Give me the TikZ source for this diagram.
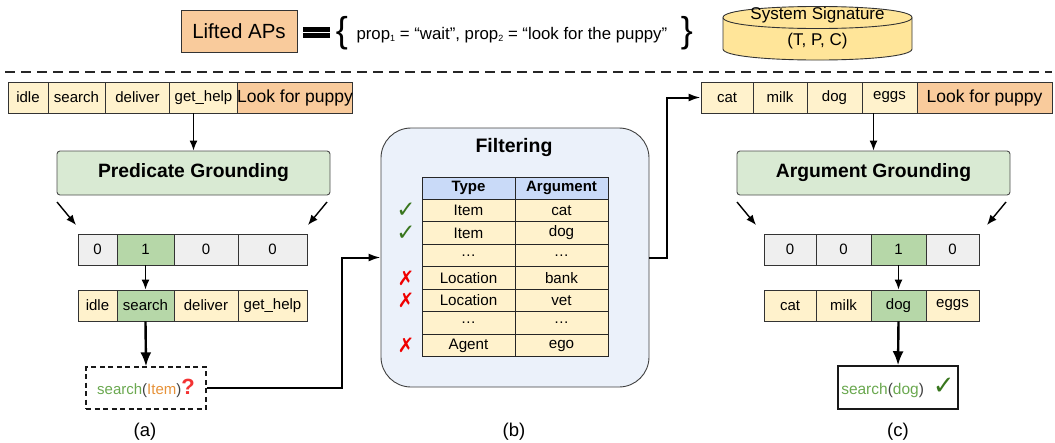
\documentclass[tikz,border=0pt]{standalone}
\usepackage{fontspec}
\setmainfont{Liberation Sans}
\newfontfamily\symfont{DejaVu Sans}
\usepackage{tikz}
\usetikzlibrary{arrows.meta}
\usepackage{xcolor}
\definecolor{apOrange}{HTML}{F9CB9C}
\definecolor{cellYellow}{HTML}{FFF2CC}
\definecolor{gndGreen}{HTML}{D9EAD3}
\definecolor{cellGreen}{HTML}{B6D7A8}
\definecolor{cellGray}{HTML}{EFEFEF}
\definecolor{cylYellow}{HTML}{FFE599}
\definecolor{headBlue}{HTML}{C9DAF8}
\definecolor{filtBlue}{HTML}{EBF1FA}
\definecolor{txtGreen}{HTML}{6AA84F}
\definecolor{txtOrange}{HTML}{E69138}
\definecolor{chkGreen}{HTML}{38761D}
\definecolor{crossRed}{HTML}{F00000}
\newcommand{\fsz}[1]{\fontsize{#1}{#1}\selectfont}

\begin{document}
\begin{tikzpicture}[x=1pt, y=-1pt, draw=black!85]
			\tikzstyle{cell}=[draw=black!80, line width=0.9pt, inner sep=0pt, minimum height=31pt, font=\fsz{15}]
			\tikzstyle{gbox}=[draw=black!70, line width=0.9pt, fill=gndGreen, rounded corners=3pt, minimum width=273pt, minimum height=44pt, font=\bfseries\fsz{19.3}]
			\tikzstyle{tcell}=[draw=black!85, line width=0.9pt, fill=cellYellow, inner sep=0pt, minimum width=93pt, minimum height=22.5pt, font=\fsz{15.2}]
			\tikzstyle{thin arrow}=[-{Latex[length=10pt,width=8pt]}, line width=1.4pt, black]
			\tikzstyle{thick arrow}=[-{Latex[length=14pt,width=11pt]}, line width=2.4pt, black]
			\tikzstyle{link}=[-{Latex[length=12pt,width=8pt]}, line width=2pt, black]
			\tikzstyle{ok}=[font=\symfont\fsz{23}, text=chkGreen]
			\tikzstyle{bad}=[font=\symfont\bfseries\fsz{20}, text=crossRed]
			\tikzstyle{caption}=[font=\fsz{18.5}]
			\useasboundingbox (0,0) rectangle (1055,442);
			
			% Header line
			\node[draw=black!80, line width=0.9pt, fill=apOrange, minimum width=116pt, minimum height=42pt, font=\fsz{20.5}] (lifted) at (239,31) {Lifted APs};
			\fill[black] (303,27) rectangle (330,31.5);
			\fill[black] (303,33) rectangle (330,37.5);
			\node[font=\fsz{36}] (lbrace) at (342,33) {\{};
			\node[anchor=west, font=\fsz{16.8}] (props) at (353,35) {prop{\fsz{9}\raisebox{-2pt}{1}} = “wait”, prop{\fsz{9}\raisebox{-2pt}{2}} = “look for the puppy”};
			\node[font=\fsz{36}] (rbrace) at (687,33) {\}};
			\draw[fill=cylYellow, draw=black!80, line width=0.9pt] (723,17.5) -- (723,49) .. controls (723,63.7) and (912,63.7) .. (912,49) -- (912,17.5) .. controls (912,2.8) and (723,2.8) .. (723,17.5) -- cycle;
			\draw[draw=black!80, line width=0.9pt] (723,17.5) .. controls (723,32.2) and (912,32.2) .. (912,17.5);
			\node[font=\fsz{17}] (sig) at (817.5,15.5) {System Signature};
			\node[font=\fsz{17}] (tpc) at (817.5,41) {(T, P, C)};
			\draw[line width=2pt, dash pattern=on 10pt off 6pt] (5,72) -- (1052,72);
			
			% (a) predicate grounding
			\node[cell, fill=cellYellow, minimum width=40pt] (idle) at (28,97.5) {idle};
			\node[cell, fill=cellYellow, minimum width=57pt] (search) at (76.5,97.5) {search};
			\node[cell, fill=cellYellow, minimum width=65pt] (deliver) at (137.5,97.5) {deliver};
			\node[cell, fill=cellYellow, minimum width=69pt] (gethelp) at (203.5,97.5) {get\_help};
			\node[cell, fill=apOrange, minimum width=114pt, font=\fsz{17.5}] (lookA) at (295,97.5) {Look for puppy};
			\node[gbox] (pg) at (193.5,173) {Predicate Grounding};
			\coordinate (pgL) at (57,202);
			\coordinate (pgR) at (327,202);
			\node[cell, fill=cellGray, minimum width=39pt] (bA1) at (97.5,249.5) {0};
			\node[cell, fill=cellGreen, minimum width=57pt] (bA2) at (145.5,249.5) {1};
			\node[cell, fill=cellGray, minimum width=64pt] (bA3) at (206,249.5) {0};
			\node[cell, fill=cellGray, minimum width=69pt] (bA4) at (272.5,249.5) {0};
			\node[cell, fill=cellYellow, minimum width=39pt] (idle2) at (97.5,305.5) {idle};
			\node[cell, fill=cellGreen, minimum width=57pt] (search2) at (145.5,305.5) {search};
			\node[cell, fill=cellYellow, minimum width=64pt] (deliver2) at (206,305.5) {deliver};
			\node[cell, fill=cellYellow, minimum width=69pt] (gethelp2) at (272.5,305.5) {get\_help};
			\node[draw=black!90, line width=1.3pt, dash pattern=on 5pt off 3.5pt, minimum width=120pt, minimum height=42pt, inner sep=0pt, font=\fsz{15}] (qa) at (146,388) {\textcolor{txtGreen}{search}\textcolor{black!75}{(}\textcolor{txtOrange}{Item}\textcolor{black!75}{)}\textcolor{crossRed!80}{\bfseries\fsz{22}?}};
			\node[caption] (capA) at (145,432) {(a)};
			
			% (b) filtering
			\node[draw=black!75, line width=0.9pt, fill=filtBlue, rounded corners=30pt, minimum width=268pt, minimum height=259pt] (filt) at (515,257.5) {};
			\node[font=\bfseries\fsz{19.5}] (filttitle) at (514,147) {Filtering};
			\node[tcell, fill=headBlue, minimum height=22pt, font=\bfseries\fsz{15}] (th1) at (468.5,188) {Type};
			\node[tcell, fill=headBlue, minimum height=22pt, font=\bfseries\fsz{15}] (th2) at (561.5,188) {Argument};
			\node[tcell] (r1a) at (468.5,210.5) {Item};
			\node[tcell] (r1b) at (561.5,210.5) {cat};
			\node[tcell] (r2a) at (468.5,233) {Item};
			\node[tcell] (r2b) at (561.5,233) {dog};
			\node[tcell] (r3a) at (468.5,255.5) {…};
			\node[tcell] (r3b) at (561.5,255.5) {…};
			\node[tcell] (r4a) at (468.5,278) {Location};
			\node[tcell] (r4b) at (561.5,278) {bank};
			\node[tcell] (r5a) at (468.5,300.5) {Location};
			\node[tcell] (r5b) at (561.5,300.5) {vet};
			\node[tcell] (r6a) at (468.5,323) {…};
			\node[tcell] (r6b) at (561.5,323) {…};
			\node[tcell] (r7a) at (468.5,345.5) {Agent};
			\node[tcell] (r7b) at (561.5,345.5) {ego};
			\node[ok] (ck1) at (406,210.5) {✓};
			\node[ok] (ck2) at (406,233) {✓};
			\node[bad] (x4) at (406,278) {✗};
			\node[bad] (x5) at (406,300.5) {✗};
			\node[bad] (x7) at (406,345.5) {✗};
			\node[caption] (capB) at (514,432) {(b)};
			
			% (c) argument grounding
			\node[cell, fill=cellYellow, minimum width=52pt] (cat) at (727,97.5) {cat};
			\node[cell, fill=cellYellow, minimum width=54pt] (milk) at (780,97.5) {milk};
			\node[cell, fill=cellYellow, minimum width=55pt] (dog) at (834.5,97.5) {dog};
			\node[cell, fill=cellYellow, minimum width=55pt] (eggs) at (889.5,97.5) {eggs};
			\node[cell, fill=apOrange, minimum width=135pt, font=\fsz{17.5}] (lookC) at (984.5,97.5) {Look for puppy};
			\node[gbox] (ag) at (873.5,173) {Argument Grounding};
			\coordinate (agL) at (737,202);
			\coordinate (agR) at (1006,202);
			\node[cell, fill=cellGray, minimum width=52pt] (bC1) at (790,249.5) {0};
			\node[cell, fill=cellGray, minimum width=55pt] (bC2) at (843.5,249.5) {0};
			\node[cell, fill=cellGreen, minimum width=55pt] (bC3) at (898.5,249.5) {1};
			\node[cell, fill=cellGray, minimum width=53pt] (bC4) at (952.5,249.5) {0};
			\node[cell, fill=cellYellow, minimum width=52pt] (cat2) at (790,305.5) {cat};
			\node[cell, fill=cellYellow, minimum width=55pt] (milk2) at (843.5,305.5) {milk};
			\node[cell, fill=cellGreen, minimum width=55pt] (dog2) at (898.5,305.5) {dog};
			\node[cell, fill=cellYellow, minimum width=53pt] (eggs2) at (952.5,305.5) {eggs};
			\node[draw=black!90, line width=1.5pt, minimum width=120pt, minimum height=43pt, inner sep=0pt, font=\fsz{15.5}] (qc) at (898,387.5) {\textcolor{txtGreen}{search}\textcolor{black!75}{(}\textcolor{txtGreen}{dog}\textcolor{black!75}{)}\hspace{9pt}{\symfont\fsz{26}\textcolor{chkGreen}{✓}}};
			\node[caption] (capC) at (898,432) {(c)};
			
			% Draw arrows
			\draw[thin arrow] (pg.north |- gethelp.south) -- (pg.north);
			\draw[thin arrow] (pgL) -- ++(19,23);
			\draw[thin arrow] (pgR) -- ++(-19,23);
			\draw[thin arrow] (bA2.south) -- (search2.north);
			\draw[thick arrow] (search2.south) -- (qa.north);
			\draw[link] (qa.east) -- ++(135,0) |- (filt.west);
			\draw[link] (filt.east) -- ++(18,0) |- (cat.west);
			\draw[thin arrow] (ag.north |- eggs.south) -- (ag.north);
			\draw[thin arrow] (agL) -- ++(19,23);
			\draw[thin arrow] (agR) -- ++(-19,23);
			\draw[thin arrow] (bC3.south) -- (dog2.north);
			\draw[thick arrow] (dog2.south) -- (qc.north);
			
		\end{tikzpicture}
\end{document}
